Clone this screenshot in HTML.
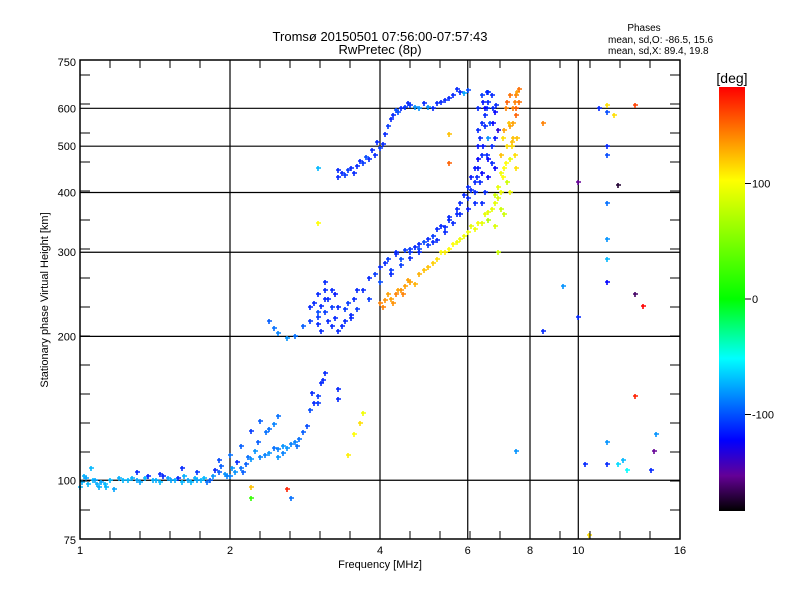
<!DOCTYPE html>
<html><head><meta charset="utf-8"><style>
body{margin:0;background:#fff}
svg{display:block;font-family:"Liberation Sans",sans-serif}
</style></head><body>
<svg id="c" width="800" height="600">
<defs><linearGradient id="cb" x1="0" y1="1" x2="0" y2="0">
<stop offset="0" stop-color="#000"/><stop offset="0.083" stop-color="#640096"/><stop offset="0.167" stop-color="#0000ff"/><stop offset="0.25" stop-color="#006eff"/><stop offset="0.36" stop-color="#00ffff"/><stop offset="0.5" stop-color="#00ff00"/><stop offset="0.78" stop-color="#ffff00"/><stop offset="0.89" stop-color="#ff8000"/><stop offset="1" stop-color="#ff0000"/></linearGradient></defs>
<text x="380" y="41" font-size="13" text-anchor="middle">Tromsø 20150501 07:56:00-07:57:43</text>
<text x="380" y="54" font-size="13" text-anchor="middle">RwPretec (8p)</text>
<text x="644" y="31" font-size="10" text-anchor="middle">Phases</text>
<text x="608" y="43" font-size="10">mean, sd,O: -86.5, 15.6</text>
<text x="608" y="54" font-size="10">mean, sd,X:  89.4, 19.8</text>
<g id="grid"></g>
<g id="pts"></g>
<rect x="80" y="60" width="600" height="479" fill="none" stroke="#000" stroke-width="1.5"/>
<g id="ticks"></g>
<text x="380" y="568" font-size="11" text-anchor="middle">Frequency [MHz]</text>
<text transform="translate(48,300) rotate(-90)" font-size="11" text-anchor="middle">Stationary phase Virtual Height [km]</text>
<rect x="719" y="87" width="26" height="424" fill="url(#cb)"/>
<text x="732" y="83" font-size="14" text-anchor="middle">[deg]</text>
<g id="cbl"></g>
</svg>
<script>
const xTicks=[1,2,4,6,8,10,16];
const xGrid=[2,4,6,8,10];
const yTicks=[75,100,200,300,400,500,600,750];
const yGrid=[100,200,300,400,500,600];
const cbTicks=[100,0,-100];
// frequency [MHz], height [km], phase [deg]
const eFreq=[1.0,1.02,1.03,1.06,1.08,1.1,1.13,1.15,1.2,1.25,1.3,1.35,1.4,1.45,1.5,1.55,1.6,1.65,1.7,1.75,1.8,1.85,1.9,1.95,2.0,2.05,2.1,2.15,2.2,2.3,2.4,2.5,2.6,2.7,2.8,2.9,3.0,3.05,3.1,2.2,2.3,2.4,2.45,2.5,3.3,3.3,3.45,3.55,3.65,3.7,2.2,2.2,2.6,2.65,1.9,2.0,2.1];
const eH=[97,102,101,100,98,99,97,100,101,100,100,101,100,99,101,100,99,100,101,100,99,102,104,103,102,104,106,108,111,112,114,116,117,120,126,140,150,160,168,127,133,128,131,136,148,155,113,125,132,138,97,92,96,92,110,113,118];
const ePh=[-70,-72,-75,-70,-72,-75,-70,-70,-72,-70,-75,-70,-72,-70,-75,-72,-70,-75,-72,-70,-90,-80,-95,-80,-85,-80,-90,-95,-80,-85,-80,-85,-80,-85,-95,-100,-105,-110,-110,-105,-95,-90,-85,-90,-110,-110,105,100,110,95,120,20,170,-90,-100,-90,-95];
const eFreq2=[1.01,1.04,1.07,1.09,1.12,1.17,1.22,1.27,1.32,1.37,1.42,1.47,1.52,1.57,1.62,1.67,1.72,1.77,1.82,1.87,1.92,1.97,2.02,2.07,2.12,2.17,2.25,2.35,2.45,2.55,2.65,2.75,2.85,2.95,1.05,1.3,1.45,1.6,1.72,2.28,2.36,2.5,2.55,2.72,2.92,3.0,3.08];
const eH2=[99,98,100,97,98,96,100,101,99,102,100,102,100,101,102,99,100,101,100,105,107,102,106,109,104,112,115,113,117,118,119,122,130,145,106,104,103,106,104,120,126,112,114,118,152,145,162];
const ePh2=[-72,-70,-75,-72,-70,-75,-70,-72,-75,-110,-72,-110,-75,-110,-72,-70,-75,-70,-95,-110,-95,-85,-80,-110,-95,-90,-80,-85,-90,-80,-85,-90,-100,-110,-70,-110,-110,-110,-105,-95,-90,-80,-85,-90,-110,-105,-110];
const f1Freq=[2.4,2.45,2.5,2.6,2.7,2.8,2.9,3.0,3.05,3.1,3.2,3.3,3.4,3.5,3.6,3.8,4.0,4.2,4.4,4.6,4.8,5.0,5.2,5.4,5.6,5.8,6.0,6.1,6.2,6.3,6.4,6.5,6.55,6.6,6.6,3.0,3.1,3.2,3.3,3.45,3.6,3.8,4.0,4.15,4.3,4.6,4.8,5.0,5.2,5.5,5.8,6.0,6.1,6.2,6.3,6.4,6.5,6.7,6.8,6.9,6.4,6.6,6.8];
const f1H=[215,208,203,198,200,210,230,220,205,240,210,205,215,222,228,240,260,275,290,300,305,310,318,330,345,360,390,405,420,450,480,550,600,620,650,245,260,250,230,235,250,265,280,290,300,305,312,320,335,350,380,410,430,450,500,560,600,640,590,540,380,470,520];
const f1Ph=[-95,-90,-85,-80,-90,-95,-110,-105,-110,-110,-110,-110,-110,-110,-105,-105,-100,-105,-100,-105,-100,-105,-110,-110,-110,-110,-110,-110,-110,-115,-110,-110,-105,-110,-105,-110,-110,-110,-110,-105,-110,-110,-110,-105,-110,-105,-110,-110,-110,-110,-110,-110,-115,-115,-115,-110,-120,-110,-120,-130,-110,-120,-115];
const dFreq=[2.9,2.95,3.0,3.0,3.05,3.1,3.1,3.15,3.15,3.2,3.25,3.25,3.35,3.4,3.5,3.55,3.7,3.9,4.1,4.3,4.5,4.7,4.9,5.1,5.3,5.5,5.7,5.9,4.2,4.4,4.6,4.8,5.1,5.4,5.7,6.0,6.2,6.25,6.3,6.35,6.35,6.4,6.45,6.5,6.55,6.6,6.65,6.7,6.75,6.8,6.3,6.4,6.5,6.6,6.7,6.45,6.55,6.75,6.85,6.2,6.3];
const dH=[215,235,225,212,232,225,250,215,240,230,218,245,210,228,218,240,250,270,285,298,303,308,315,325,340,355,370,395,270,282,292,300,315,338,360,370,400,430,470,420,520,440,500,400,480,430,560,500,600,450,600,640,580,520,460,620,650,560,610,380,540];
const dPh=[-105,-110,-100,-110,-110,-105,-110,-110,-110,-105,-110,-115,-110,-105,-110,-110,-110,-105,-110,-110,-105,-110,-100,-105,-110,-110,-110,-110,-110,-105,-110,-110,-110,-110,-110,-115,-110,-110,-120,-110,-110,-120,-115,-110,-110,-120,-100,-110,-110,-120,-110,-105,-110,-80,-110,-115,-110,-120,-110,-110,-110];
const xFreq=[4.0,4.1,4.2,4.3,4.4,4.5,4.6,4.8,5.0,5.2,5.4,5.5,5.7,5.8,6.0,6.2,6.4,6.5,6.7,6.8,7.0,7.05,7.1,7.2,7.3,7.4,7.5,7.55,7.2,7.3,7.4,7.5,7.1,7.3,7.45,7.6,6.6,6.8,7.0,6.9];
const xH=[235,238,240,245,250,255,260,270,280,290,300,305,315,320,330,335,345,360,370,380,400,430,450,500,550,600,640,650,420,470,520,580,360,400,480,620,350,340,370,300];
const xPh=[140,135,130,140,135,130,130,125,120,110,105,100,95,95,95,95,90,90,90,90,95,100,100,110,130,140,140,130,80,90,120,150,80,95,110,145,70,85,80,80];
const x2Freq=[4.05,4.15,4.25,4.35,4.45,4.55,4.7,4.9,5.1,5.3,5.6,5.9,6.1,6.3,6.6,6.9,7.0,7.1,7.15,7.2,7.25,7.3,7.35,7.4,7.45,7.5,7.55,7.6,7.0,7.05,7.15,7.35,7.5,6.8,6.9];
const x2H=[230,245,235,250,245,262,258,275,285,300,312,325,340,345,365,390,480,540,600,620,560,640,500,560,620,600,520,660,440,520,460,510,450,395,410];
const x2Ph=[140,130,135,130,140,130,125,120,115,100,100,95,90,95,90,85,120,130,140,150,120,145,110,130,140,150,120,145,95,110,100,120,110,80,90];
const fUpFreq=[3.3,3.35,3.4,3.5,3.6,3.7,3.8,3.9,4.0,4.05,4.1,4.2,4.3,4.4,4.5,4.6,4.8,5.0,5.2,5.3,5.5,5.6,5.8,6.0,3.3,3.45,3.55,3.65,3.75,3.85,3.95,4.15,4.25,4.35,4.55,4.7,4.9,5.1,5.4,5.7,5.9];
const fUpH=[445,440,435,450,455,460,470,480,495,505,530,570,595,600,605,610,600,605,615,620,630,640,650,655,430,445,440,465,475,490,510,550,580,590,615,605,615,600,625,660,645];
const fUpPh=[-110,-110,-105,-110,-110,-105,-110,-110,-105,-110,-110,-110,-100,-110,-105,-105,-80,-80,-110,-110,-110,-110,-110,-100,-110,-105,-110,-110,-100,-110,-110,-105,-110,-100,-110,-80,-110,-110,-110,-110,-75];
const sFreq=[8.5,9.3,8.5,7.5,10,10,10.3,10.5,11,11.4,11.4,11.4,11.4,11.4,11.4,11.4,11.4,11.4,11.4,11.8,12,12,12.3,12.5,13,13,13,13.5,14,14.3,14.2,3,3,5.5,5.5];
const sH=[560,255,205,115,420,220,108,77,600,610,590,500,480,380,320,290,260,120,108,580,415,108,110,105,610,245,150,232,105,125,115,450,345,530,460];
const sPh=[140,-80,-110,-80,-150,-110,-110,110,-110,110,-100,-110,-100,-90,-80,-70,-120,-80,-110,110,-170,-60,-70,-50,160,-160,170,180,-110,-80,-150,-70,100,120,150];

const X=f=>80+150*Math.log2(f);
const Y=h=>540-478*Math.log10(h/75);
const ns="http://www.w3.org/2000/svg";
function mk(tag,parent,attrs){const e=document.createElementNS(ns,tag);for(const k in attrs)e.setAttribute(k,attrs[k]);document.getElementById(parent).appendChild(e);return e;}
const stops=[[-180,0,0,0],[-150,100,0,150],[-120,0,0,255],[-90,0,110,255],[-50,0,255,255],[0,0,255,0],[100,255,255,0],[140,255,128,0],[180,255,0,0]];
function col(p){p=Math.max(-180,Math.min(180,p));for(let i=1;i<stops.length;i++){if(p<=stops[i][0]){const a=stops[i-1],b=stops[i],t=(p-a[0])/(b[0]-a[0]);return `rgb(${[1,2,3].map(j=>Math.round(a[j]+(b[j]-a[j])*t)).join(',')})`;}}return 'red';}
xGrid.forEach(f=>{const l=mk('line','grid',{x1:X(f),x2:X(f),y1:60,y2:539,stroke:'#000','stroke-width':1.2});

});
yGrid.forEach(h=>{const l=mk('line','grid',{x1:80,x2:680,y1:Y(h),y2:Y(h),stroke:'#000','stroke-width':1.2});

});
for(let i=1;i<20;i++){const x=80+30*i;[[539,531],[60,68]].forEach(([a,b])=>{const t=mk('line','ticks',{x1:x,x2:x,y1:a,y2:b,stroke:'#000'});

});}
for(let y=539;y>60;y-=29){[[80,90],[680,670]].forEach(([a,b])=>{const t=mk('line','ticks',{x1:a,x2:b,y1:y,y2:y,stroke:'#000'});

});}
xTicks.forEach(f=>{const t=mk('text','ticks',{x:X(f),y:554,'font-size':11,'text-anchor':'middle'});t.textContent=f;

});
yTicks.forEach(h=>{const t=mk('text','ticks',{x:76,y:Y(h)+4,'font-size':11,'text-anchor':'end'});t.textContent=h;

});
cbTicks.forEach(v=>{const y=299-v*1.155;const l=mk('line','cbl',{x1:745,x2:751,y1:y,y2:y,stroke:'#000'});


const t=mk('text','cbl',{x:752,y:y+4,'font-size':11});t.textContent=v;

});
function plot(F,H,P,name){F.forEach((f,i)=>{const x=Math.round(X(f)),y=Math.round(Y(H[i])),c=col(P[i]);
const g=mk('path','pts',{d:`M${x-2} ${y}h5M${x} ${y-2}v5`,stroke:c,'stroke-width':1.6,fill:'none'});

});}
plot(eFreq,eH,ePh,'e-trace-point');
plot(eFreq2,eH2,ePh2,'e-trace-point');
plot(f1Freq,f1H,f1Ph,'f-o-trace-point');
plot(dFreq,dH,dPh,'f-o-trace-point');
plot(fUpFreq,fUpH,fUpPh,'f2-o-upper-point');
plot(xFreq,xH,xPh,'x-trace-point');
plot(x2Freq,x2H,x2Ph,'x-trace-point');
plot(sFreq,sH,sPh,'scatter-point');
</script>
</body></html>
